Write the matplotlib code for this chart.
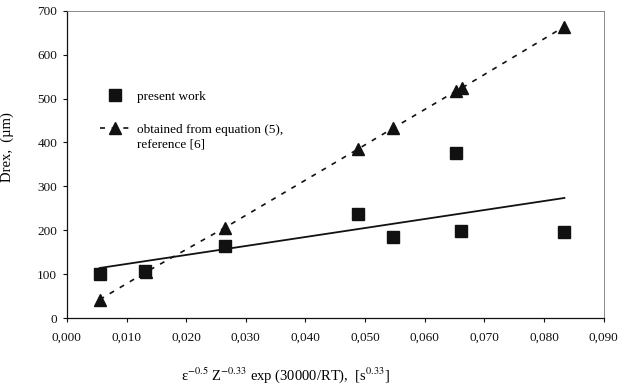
import matplotlib

matplotlib.use("Agg")
import matplotlib.pyplot as plt
import numpy as np

# present work (squares)
work_x = [0.0055, 0.0131, 0.0265, 0.0488, 0.0546, 0.0652, 0.0660, 0.0834]
work_y = [100, 108, 165, 236, 185, 376, 199, 197]

# obtained from equation (5), reference [6] (triangles)
ref_x = [0.0055, 0.0133, 0.0265, 0.0488, 0.0546, 0.0652, 0.0662, 0.0834]
ref_y = [42, 105, 206, 385, 432, 517, 524, 664]

x_ticks = np.arange(0, 0.0901, 0.01)
y_ticks = np.arange(0, 701, 100)

INK = "#111111"

plt.rcParams.update({
    "font.family": "serif",
    "font.serif": ["Liberation Serif", "DejaVu Serif"],
    "mathtext.fontset": "stix",
    "font.size": 9.5,
})

fig = plt.figure(figsize=(6.25, 3.86), dpi=100)
ax = fig.add_axes([0.107, 0.176, 0.859, 0.796])

# linear trend through the present-work points
k, b = np.polyfit(work_x, work_y, 1)
xs = np.array([work_x[0], work_x[-1]])
ax.plot(xs, k * xs + b, color=INK, lw=1.3, zorder=2)

ax.plot(ref_x, ref_y, ls=(0, (3, 4)), color=INK, lw=1.2, marker="^",
        markersize=8.5, markerfacecolor=INK, markeredgecolor=INK,
        label="obtained from equation (5),", zorder=3)
ax.plot(work_x, work_y, ls="none", marker="s", markersize=8.5,
        color=INK, label="present work", zorder=4)

ax.set_xlim(0, 0.09)
ax.set_ylim(0, 700)
ax.set_xticks(x_ticks)
ax.set_yticks(y_ticks)
ax.set_xticklabels([f"{v:.3f}".replace(".", ",") for v in x_ticks])
ax.tick_params(direction="out", length=3, width=0.8, colors=INK)
ax.tick_params(axis="x", pad=7)
ax.tick_params(axis="y", pad=4)

for side in ("left", "bottom"):
    ax.spines[side].set_color(INK)
    ax.spines[side].set_linewidth(0.9)
for side in ("top", "right"):
    ax.spines[side].set_color("#777777")
    ax.spines[side].set_linewidth(0.6)

ax.set_ylabel("Drex,  (µm)", fontsize=10.5)
ax.yaxis.set_label_coords(-0.098, 0.557)
ax.set_xlabel(r"ε$^{-0.5}$ Z$^{-0.33}$ exp (30000/RT),  [s$^{0.33}$]",
              fontsize=10.5)
ax.xaxis.set_label_coords(0.408, -0.155)

handles, labels = ax.get_legend_handles_labels()
leg = ax.legend(handles[::-1], labels[::-1], loc="upper left",
                bbox_to_anchor=(0.04, 0.78), frameon=False, fontsize=9.5,
                handlelength=2.2, handletextpad=0.6, labelspacing=1.6)

# second line of the reference entry, aligned under the legend text
fig.canvas.draw()
bb = leg.get_texts()[1].get_window_extent()
x0, y0 = fig.transFigure.inverted().transform((bb.x0, bb.y0))
fig.text(x0, y0 - 0.008, "reference [6]", fontsize=9.5, ha="left", va="top")

fig.savefig("out.png", dpi=100)
